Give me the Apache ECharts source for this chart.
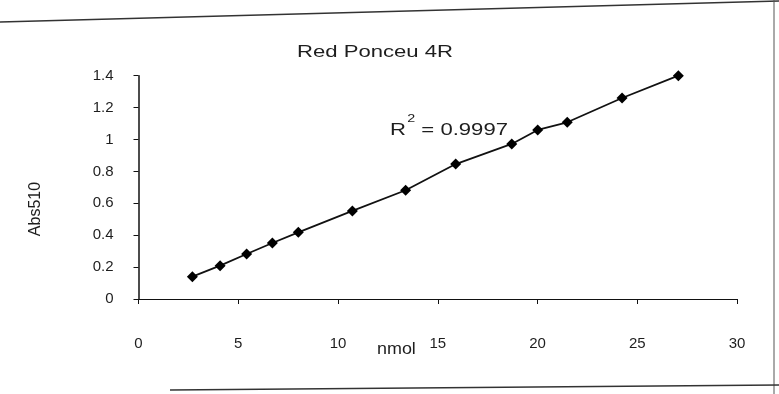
<!DOCTYPE html>
<html>
<head>
<meta charset="utf-8">
<script src="https://cdn.jsdelivr.net/npm/echarts@6/dist/echarts.min.js"></script>
<style>
  html, body { margin: 0; padding: 0; background: #fff; }
  #chart { width: 779px; height: 394px; }
</style>
</head>
<body>
<div id="chart"></div>
<script>
// Calibration curve of Red Ponceau 4R: absorbance at 510 nm vs amount (nmol)
const nmol = [2.70, 4.09, 5.42, 6.71, 8.01, 10.72, 13.39, 15.90, 18.71, 20.01, 21.49, 24.24, 27.06];
const abs510 = [0.140, 0.209, 0.282, 0.351, 0.418, 0.552, 0.682, 0.846, 0.972, 1.060, 1.108, 1.260, 1.400];
const xTicks = [0, 5, 10, 15, 20, 25, 30];
const yTicks = [0, 0.2, 0.4, 0.6, 0.8, 1, 1.2, 1.4];
const chartTitle = 'Red Ponceu 4R';
const xName = 'nmol';
const yName = 'Abs510';
const rSquared = '0.9997';

const points = nmol.map((x, i) => [x, abs510[i]]);
const font = '"Liberation Sans", Arial, sans-serif';
const ink = '#1e1e1e';

const chart = echarts.init(document.getElementById('chart'), null, { renderer: 'canvas' });
chart.setOption({
  animation: false,
  backgroundColor: '#fff',
  grid: { left: 138.5, right: 42, top: 75.7, bottom: 95, containLabel: false },
  xAxis: {
    type: 'value',
    min: xTicks[0], max: xTicks[xTicks.length - 1], interval: 5,
    axisLine: { show: true, lineStyle: { color: '#111', width: 1.2 } },
    axisTick: { show: true, length: 5, inside: false, lineStyle: { color: '#111' } },
    splitLine: { show: false },
    axisLabel: { margin: 37, fontFamily: font, fontSize: 15, color: ink }
  },
  yAxis: {
    type: 'value',
    min: yTicks[0], max: yTicks[yTicks.length - 1], interval: 0.2,
    axisLine: { show: true, lineStyle: { color: '#111', width: 1.5 } },
    axisTick: { show: true, length: 5, lineStyle: { color: '#111' } },
    splitLine: { show: false },
    axisLabel: {
      margin: 25, fontFamily: font, fontSize: 15, color: ink,
      formatter: v => String(Math.round(v * 10) / 10)
    }
  },
  series: [{
    type: 'line',
    data: points,
    clip: false,
    symbol: 'diamond',
    symbolSize: 11,
    itemStyle: { color: '#000' },
    lineStyle: { color: '#111', width: 1.8 }
  }],
  graphic: [
    // chart title (typeset a little wide)
    { type: 'text', x: 375, y: 52, scaleX: 1.3,
      style: { text: chartTitle, font: '17px ' + font, fill: ink, align: 'center', verticalAlign: 'middle' } },
    // y axis title, rotated
    { type: 'text', x: 36, y: 209, rotation: Math.PI / 2,
      style: { text: yName, font: '16px ' + font, fill: ink, align: 'center', verticalAlign: 'middle' } },
    // x axis title, sitting beside the middle tick label
    { type: 'text', x: 377, y: 342, scaleX: 1.12,
      style: { text: xName, font: '16px ' + font, fill: ink } },
    // coefficient of determination of the linear fit
    { type: 'text', x: 390, y: 113, scaleX: 1.3,
      style: {
        text: '{r|R}{s|2}{r| = ' + rSquared + '}',
        rich: {
          r: { font: '17px ' + font, fill: ink, verticalAlign: 'bottom', lineHeight: 26 },
          s: { font: '11px ' + font, fill: ink, verticalAlign: 'top', lineHeight: 26, padding: [0, 0, 0, 1] }
        }
      } },
    // page frame
    { type: 'line', shape: { x1: 0, y1: 22, x2: 779, y2: 1 },
      style: { stroke: '#333', lineWidth: 1.5 } },
    { type: 'line', shape: { x1: 774, y1: 0, x2: 774, y2: 394 },
      style: { stroke: '#555', lineWidth: 1 } },
    { type: 'line', shape: { x1: 170, y1: 390, x2: 779, y2: 385 },
      style: { stroke: '#333', lineWidth: 1.5 } }
  ]
});
</script>
</body>
</html>
